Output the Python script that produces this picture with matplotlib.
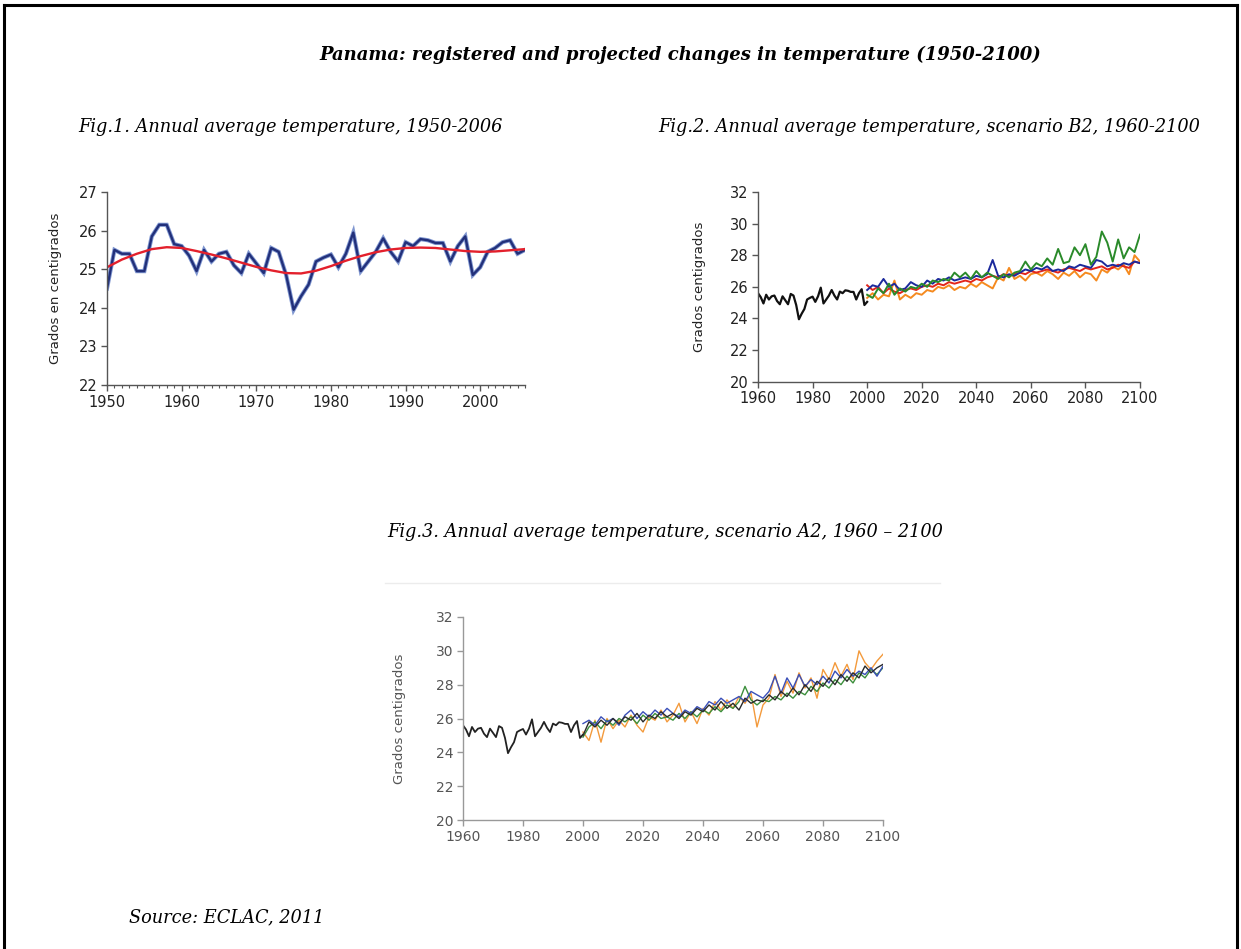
import matplotlib
matplotlib.use("Agg")
import matplotlib.pyplot as plt
from matplotlib.lines import Line2D
from matplotlib.ticker import MultipleLocator

SERIF = ["DejaVu Serif"]
SANS = ["DejaVu Sans"]

# ---- Fig.1: observed annual mean 1950-2006 + smoothed trend ----
obs_years = list(range(1950, 2007))
obs_temp = [24.5, 25.5, 25.4, 25.4, 24.95, 24.95, 25.85, 26.15, 26.15, 25.65,
            25.6, 25.35, 24.95, 25.5, 25.2, 25.4, 25.45, 25.1, 24.9, 25.4,
            25.15, 24.9, 25.55, 25.45, 24.85, 23.95, 24.3, 24.6, 25.2, 25.3,
            25.38, 25.05, 25.4, 25.95, 24.95, 25.2, 25.45, 25.8, 25.45, 25.2,
            25.7, 25.6, 25.78, 25.75, 25.68, 25.68, 25.2, 25.6, 25.85, 24.85,
            25.05, 25.45, 25.55, 25.7, 25.75, 25.4, 25.5]
trend_years = list(range(1950, 2007, 2))
trend_temp = [25.05, 25.25, 25.4, 25.52, 25.57, 25.55, 25.47, 25.38, 25.28, 25.17,
              25.06, 24.97, 24.9, 24.89, 24.96, 25.08, 25.22, 25.34, 25.44, 25.51,
              25.55, 25.56, 25.55, 25.51, 25.47, 25.45, 25.46, 25.49, 25.52]

# ---- projections 2000-2100 (every 2 years) ----
proj_years = list(range(2000, 2101, 2))

b2_green = [25.5, 25.3, 25.9, 25.6, 26.2, 25.5, 25.9, 25.7, 26.0, 25.9,
            26.2, 26.0, 26.4, 26.3, 26.5, 26.4, 26.9, 26.6, 26.9, 26.5,
            27.0, 26.6, 26.9, 26.7, 26.5, 26.8, 26.6, 26.9, 27.0, 27.6,
            27.1, 27.5, 27.3, 27.8, 27.4, 28.4, 27.5, 27.6, 28.5, 28.0,
            28.7, 27.4, 27.9, 29.5, 28.8, 27.6, 29.0, 27.8, 28.5, 28.2, 29.3]
b2_blue = [25.8, 26.1, 26.0, 26.5, 26.0, 26.2, 25.8, 25.9, 26.3, 26.1,
           26.0, 26.4, 26.2, 26.5, 26.4, 26.6, 26.4, 26.5, 26.6, 26.5,
           26.7, 26.6, 26.8, 27.7, 26.7, 26.6, 26.8, 26.7, 26.9, 27.1,
           27.0, 27.2, 27.1, 27.3, 27.0, 27.1, 27.0, 27.3, 27.2, 27.4,
           27.3, 27.2, 27.7, 27.6, 27.3, 27.4, 27.3, 27.5, 27.4, 27.6, 27.5]
b2_red = [26.1, 25.8, 26.0, 25.6, 25.9, 25.7, 25.6, 25.8, 25.9, 25.8,
          26.0, 26.1, 26.0, 26.2, 26.1, 26.3, 26.2, 26.3, 26.4, 26.3,
          26.5, 26.4, 26.6, 26.7, 26.6, 26.8, 26.7, 26.8, 26.9, 26.8,
          27.0, 26.9, 27.0, 27.1, 27.0, 26.9, 27.1, 27.2, 27.1, 27.0,
          27.2, 27.1, 27.2, 27.3, 27.1, 27.2, 27.4, 27.3, 27.2, 27.6, 27.5]
b2_orange = [25.3, 25.6, 25.2, 25.5, 25.4, 26.4, 25.2, 25.5, 25.3, 25.6,
             25.5, 25.8, 25.7, 26.0, 25.9, 26.1, 25.8, 26.0, 25.9, 26.2,
             26.0, 26.3, 26.1, 25.9, 26.6, 26.4, 27.2, 26.5, 26.7, 26.4,
             26.8, 26.9, 26.7, 27.0, 26.8, 26.5, 26.9, 26.7, 27.0, 26.6,
             26.9, 26.8, 26.4, 27.1, 26.9, 27.3, 27.1, 27.4, 26.8, 28.0, 27.6]

a2_orange = [25.2, 24.7, 25.9, 24.6, 26.0, 25.4, 25.9, 25.5, 26.2, 25.6,
             25.2, 26.1, 25.9, 26.5, 25.8, 26.2, 26.9, 25.8, 26.4, 25.7,
             26.6, 26.2, 27.0, 26.5, 27.1, 26.6, 27.3, 26.9, 27.5, 25.5,
             26.8, 27.2, 28.6, 27.3, 28.2, 27.5, 28.7, 27.8, 28.4, 27.2,
             28.9, 28.3, 29.3, 28.5, 29.2, 28.3, 30.0, 29.3, 28.9, 29.4, 29.8]
a2_blue = [25.7, 25.9, 25.6, 26.1, 25.8, 26.0, 25.6, 26.2, 26.5, 26.0,
           26.4, 26.1, 26.5, 26.2, 26.6, 26.3, 26.1, 26.5, 26.3, 26.7,
           26.5, 27.0, 26.8, 27.2, 26.9, 27.1, 27.3, 27.0, 27.6, 27.4,
           27.2, 27.6, 28.5, 27.5, 28.4, 27.8, 28.6, 27.9, 28.3, 28.0,
           28.5, 28.1, 28.8, 28.4, 28.9, 28.5, 28.8, 28.6, 29.0, 28.5, 29.1]
a2_green = [24.9, 25.5, 25.8, 25.4, 25.9, 25.6, 26.0, 25.8, 26.1, 25.7,
            26.2, 25.9, 26.3, 26.0, 26.1, 25.9, 26.3, 26.0, 26.4, 26.1,
            26.5, 26.3, 26.7, 26.4, 26.8, 26.6, 27.0, 27.9, 27.1, 26.8,
            27.1, 27.0, 27.3, 27.1, 27.5, 27.2, 27.6, 27.4, 27.9, 27.6,
            28.1, 27.8, 28.3, 28.0, 28.5, 28.1, 28.7, 28.4, 28.9, 28.6, 29.0]
a2_black = [25.0, 25.8, 25.5, 25.9, 25.6, 26.0, 25.7, 26.1, 25.9, 26.3,
            25.8, 26.2, 26.0, 26.4, 26.1, 26.3, 26.0, 26.4, 26.2, 26.6,
            26.4, 26.8, 26.5, 27.0, 26.6, 26.9, 26.5, 27.2, 26.9, 27.1,
            27.0, 27.4, 27.1, 27.6, 27.3, 27.8, 27.4, 28.0, 27.6, 28.2,
            27.9, 28.4, 28.0, 28.6, 28.2, 28.7, 28.4, 29.1, 28.7, 29.0, 29.2]

# historic part shown in Fig.2 / Fig.3 (same record, 1960-2000)
hist_years = obs_years[10:51]
hist_temp = obs_temp[10:51]

W, H = 1241, 949
fig = plt.figure(figsize=(W / 100, H / 100), dpi=100)


def px_axes(x0, y0, x1, y1):
    """pixel box (top-left origin) -> axes"""
    return fig.add_axes([x0 / W, 1 - y1 / H, (x1 - x0) / W, (y1 - y0) / H])


def style(ax, tick_col, spine_col, ylabel, lab_x, size=10.5):
    for s in ("top", "right"):
        ax.spines[s].set_visible(False)
    for s in ("left", "bottom"):
        ax.spines[s].set_color(spine_col)
        ax.spines[s].set_linewidth(1.0)
    ax.tick_params(axis="both", which="major", length=4, width=1.0,
                   color=spine_col, labelcolor=tick_col, labelsize=size, pad=3)
    for lab in ax.get_xticklabels() + ax.get_yticklabels():
        lab.set_family(SANS)
    ax.set_ylabel(ylabel, family=SANS, fontsize=9.5, color=tick_col)
    ax.yaxis.set_label_coords(lab_x, 0.5)


# ---- Fig.1 ----
ax1 = px_axes(107, 192, 525, 385)
ax1.plot(obs_years, obs_temp, color="#7f96d0", lw=3.0, solid_joinstyle="miter")
ax1.plot(obs_years, obs_temp, color="#22307a", lw=1.7)
ax1.plot(trend_years, trend_temp, color="#e3202c", lw=1.7)
ax1.set_xlim(1950, 2006)
ax1.set_ylim(22, 27)
ax1.set_xticks(range(1950, 2001, 10))
ax1.set_yticks(range(22, 28))
ax1.xaxis.set_minor_locator(MultipleLocator(1))
ax1.tick_params(axis="x", which="minor", length=2.5, width=0.8, color="#555555")
style(ax1, "#222222", "#555555", "Grados en centigrados", -0.108)

# ---- Fig.2 (B2) ----
ax2 = px_axes(758, 192, 1140, 381.7)
ax2.plot(hist_years, hist_temp, color="#111111", lw=1.6)
for vals, col in ((b2_orange, "#f58a1f"), (b2_red, "#e3261b"),
                  (b2_blue, "#1c2a9c"), (b2_green, "#2a8a2a")):
    ax2.plot(proj_years, vals, color=col, lw=1.4)
ax2.set_xlim(1960, 2100)
ax2.set_ylim(20, 32)
ax2.set_xticks(range(1960, 2101, 20))
ax2.set_yticks(range(20, 33, 2))
style(ax2, "#222222", "#555555", "Grados centigrados", -0.135)

# ---- Fig.3 (A2) ----
ax3 = px_axes(463, 617, 883, 820)
ax3.plot(hist_years, hist_temp, color="#222222", lw=1.3)
for vals, col in ((a2_orange, "#f39a3c"), (a2_green, "#3c8f3c"),
                  (a2_blue, "#3a4fb8"), (a2_black, "#2b2b2b")):
    ax3.plot(proj_years, vals, color=col, lw=1.0)
ax3.set_xlim(1960, 2100)
ax3.set_ylim(20, 32)
ax3.set_xticks(range(1960, 2101, 20))
ax3.set_yticks(range(20, 33, 2))
style(ax3, "#555555", "#999999", "Grados centigrados", -0.136, size=10)

# ---- page frame + texts ----
for xs, ys in (((4, 4), (0, 5)), ((4, 1237), (5, 5)), ((1237, 1237), (5, 0))):
    fig.add_artist(Line2D([x / W for x in xs], [1 - y / H if y else 0 for y in ys],
                          color="black", lw=2.2, transform=fig.transFigure))
fig.add_artist(Line2D([385 / W, 940 / W], [1 - 583 / H] * 2, color="#ececec",
                      lw=1.0, transform=fig.transFigure))

fig.text(680 / W, 1 - 55 / H,
         "Panama: registered and projected changes in temperature (1950-2100)",
         ha="center", va="center", family=SERIF, style="italic", weight="bold",
         fontsize=13)
fig.text(78 / W, 1 - 127 / H, "Fig.1. Annual average temperature, 1950-2006",
         ha="left", va="center", family=SERIF, style="italic", fontsize=12.8)
fig.text(658 / W, 1 - 127 / H,
         "Fig.2. Annual average temperature, scenario B2, 1960-2100",
         ha="left", va="center", family=SERIF, style="italic", fontsize=12.8)
fig.text(665 / W, 1 - 532 / H,
         "Fig.3. Annual average temperature, scenario A2, 1960 \u2013 2100",
         ha="center", va="center", family=SERIF, style="italic", fontsize=12.8)
fig.text(129 / W, 1 - 917 / H, "Source: ECLAC, 2011",
         ha="left", va="center", family=SERIF, style="italic", fontsize=12.8)

fig.savefig("out.png", dpi=100)
